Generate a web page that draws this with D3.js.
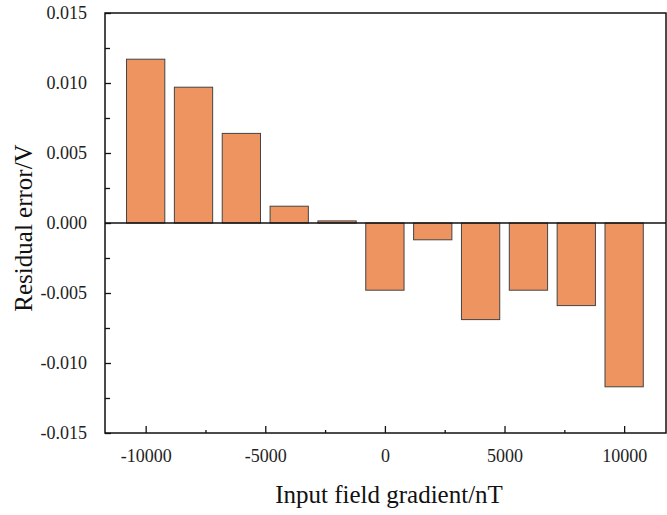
<!DOCTYPE html>
<html>
<head>
<meta charset="utf-8">
<script src="https://cdn.jsdelivr.net/npm/d3@7"></script>
<style>
  body { margin: 0; background: #fff; }
  text { font-family: "Liberation Serif", "DejaVu Serif", serif; }
</style>
</head>
<body>
<svg></svg>
<script>
const gradients = [-10000, -8000, -6000, -4000, -2000, 0, 2000, 4000, 6000, 8000, 10000];
const residuals = [0.0117, 0.0097, 0.0064, 0.0012, 0.00015, -0.0048, -0.0012, -0.0069, -0.0048, -0.0059, -0.0117];
const xTicks = [-10000, -5000, 0, 5000, 10000];
const yTicks = [-0.015, -0.01, -0.005, 0, 0.005, 0.01, 0.015];

const width = 667;
const height = 515;
const margin = { top: 13, right: 1, bottom: 82, left: 105 };

const svg = d3.select("svg").attr("width", width).attr("height", height);

const x = d3.scaleLinear().domain([-11700, 11750]).range([margin.left, width - margin.right]);
const y = d3.scaleLinear().domain([-0.015, 0.015]).range([height - margin.bottom, margin.top]);

const barW = x(800) - x(-800);
// plain hyphen instead of unicode minus, like the original figure
const hyphen = (f) => (d) => f(d).replace("\u2212", "-");

// bars
svg.append("g")
  .selectAll("rect")
  .data(gradients)
  .enter()
  .append("rect")
  .attr("x", (d) => x(d) - barW / 2)
  .attr("y", (d, i) => Math.min(y(residuals[i]), y(0)))
  .attr("width", barW)
  .attr("height", (d, i) => Math.abs(y(residuals[i]) - y(0)))
  .attr("fill", "#ee9460")
  .attr("stroke", "#444")
  .attr("stroke-width", 1);

// zero line
svg.append("line")
  .attr("x1", x.range()[0]).attr("x2", x.range()[1])
  .attr("y1", y(0)).attr("y2", y(0))
  .attr("stroke", "#111").attr("stroke-width", 1.3);

// frame
svg.append("rect")
  .attr("x", margin.left)
  .attr("y", margin.top)
  .attr("width", width - margin.right - margin.left)
  .attr("height", height - margin.bottom - margin.top)
  .attr("fill", "none")
  .attr("stroke", "#111")
  .attr("stroke-width", 1.5);

// x axis ticks (inward)
const xAxis = svg.append("g").attr("transform", `translate(0,${y.range()[0]})`);
xAxis.call(d3.axisBottom(x).tickValues(xTicks).tickSizeInner(-7).tickSizeOuter(0).tickPadding(16).tickFormat(hyphen(d3.format("d"))));
xAxis.append("g").call(d3.axisBottom(x).tickValues(d3.range(-7500, 10000, 5000)).tickSizeInner(-3).tickSizeOuter(0).tickFormat(""));
xAxis.selectAll(".domain").remove();

// y axis ticks (inward)
const yAxis = svg.append("g").attr("transform", `translate(${margin.left},0)`);
yAxis.call(d3.axisLeft(y).tickValues(yTicks).tickSizeInner(-6).tickSizeOuter(0).tickPadding(18).tickFormat(hyphen(d3.format(".3f"))));
yAxis.append("g").call(d3.axisLeft(y).tickValues(d3.range(-0.0125, 0.015, 0.005)).tickSizeInner(-5).tickSizeOuter(0).tickFormat(""));
yAxis.selectAll(".domain").remove();

svg.selectAll(".tick line").attr("stroke", "#111").attr("stroke-width", 1.3);
svg.selectAll(".tick text").attr("fill", "#222").attr("font-size", 18)
  .style("font-family", '"Liberation Serif", serif');

// axis titles
svg.append("text")
  .attr("x", 389)
  .attr("y", 503)
  .attr("text-anchor", "middle")
  .attr("font-size", 25)
  .attr("fill", "#111")
  .text("Input field gradient/nT");

svg.append("text")
  .attr("transform", `translate(32,228) rotate(-90)`)
  .attr("text-anchor", "middle")
  .attr("font-size", 25)
  .attr("fill", "#111")
  .text("Residual error/V");
</script>
</body>
</html>
